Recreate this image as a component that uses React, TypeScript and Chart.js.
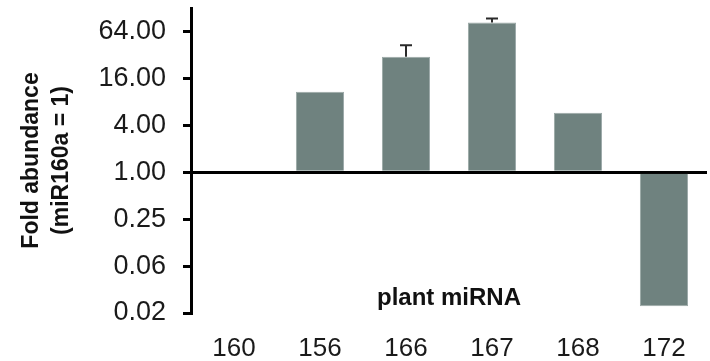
import React, { useEffect, useRef } from "react";
import { Chart, registerables } from "chart.js";

Chart.register(...registerables);

const categories = ["160", "156", "166", "167", "168", "172"];
const foldValues = [1, 10.8, 30.4, 83.6, 5.8, 0.0191];
const errorPlus = [0, 0, 12.2, 10.6, 0, 0];
const yTickValues = [1 / 64, 1 / 16, 1 / 4, 1, 4, 16, 64];
const yTitle = ["Fold abundance", "(miR160a = 1)"];
const innerLabel = "plant miRNA";

const FONT = "'Liberation Sans', Arial, Helvetica, sans-serif";

export default function App() {
  const ref = useRef<HTMLCanvasElement | null>(null);

  useEffect(() => {
    if (!ref.current) return;

    const extras = {
      id: "extras",
      afterDatasetsDraw(chart: any) {
        const { ctx, chartArea, scales } = chart;
        const y = scales.y;
        const meta = chart.getDatasetMeta(0);
        ctx.save();
        ctx.strokeStyle = "#2a2a2a";
        ctx.lineWidth = 2;
        meta.data.forEach((bar: any, i: number) => {
          const e = errorPlus[i];
          if (!e) return;
          const yTop = y.getPixelForValue(foldValues[i] + e);
          const yBar = y.getPixelForValue(foldValues[i]);
          ctx.beginPath();
          ctx.moveTo(bar.x, yBar);
          ctx.lineTo(bar.x, yTop);
          ctx.moveTo(bar.x - 6, yTop);
          ctx.lineTo(bar.x + 6, yTop);
          ctx.stroke();
        });
        ctx.fillStyle = "#111";
        ctx.font = `bold 24px ${FONT}`;
        ctx.textAlign = "center";
        ctx.textBaseline = "middle";
        ctx.fillText(innerLabel, (chartArea.left + chartArea.right) / 2, chartArea.bottom - 15);
        ctx.restore();
      },
    };

    const chart = new Chart(ref.current, {
      type: "bar",
      data: {
        labels: categories,
        datasets: [
          {
            data: foldValues,
            base: 1,
            backgroundColor: "#6f827f",
            borderColor: "#9aa8a6",
            borderWidth: 1,
            barPercentage: 0.56,
            categoryPercentage: 1,
          } as any,
        ],
      },
      options: {
        responsive: false,
        animation: false,
        layout: { padding: { left: 0, right: 3, top: 8, bottom: 0 } },
        plugins: {
          legend: { display: false },
          tooltip: { enabled: false },
        },
        scales: {
          x: {
            grid: { display: false, drawTicks: false },
            border: { display: false },
            ticks: {
              color: "#1a1a1a",
              font: { family: FONT, size: 26 },
              padding: 20,
              maxRotation: 0,
            },
            afterFit(scale: any) {
              scale.height = 48;
            },
          },
          y: {
            type: "logarithmic",
            min: 1 / 64,
            max: 128,
            afterBuildTicks(scale: any) {
              scale.ticks = yTickValues.map((v) => ({ value: v }));
            },
            afterFit(scale: any) {
              scale.width = 191;
              scale.paddingTop = 0;
              scale.paddingBottom = 0;
            },
            border: { display: true, color: "#000", width: 3 },
            grid: {
              color: (c: any) => (c.tick && Math.abs(c.tick.value - 1) < 1e-9 ? "#000" : "rgba(0,0,0,0)"),
              lineWidth: 3,
              tickColor: "#000",
              tickWidth: 3,
              tickLength: 8,
              drawOnChartArea: true,
            },
            ticks: {
              color: "#1a1a1a",
              font: { family: FONT, size: 27 },
              padding: 17,
              autoSkip: false,
              callback: (v: any) => Number(v).toFixed(2),
            },
            title: {
              display: true,
              text: yTitle,
              color: "#111",
              font: { family: FONT, size: 23, weight: "bold", lineHeight: 1.3 },
              padding: { top: 17, bottom: 0 },
            },
          },
        },
      },
      plugins: [extras],
    } as any);

    return () => chart.destroy();
  }, []);

  return (
    <div style={{ position: "absolute", left: 0, top: 0, width: 710, height: 361, background: "#fff" }}>
      <canvas ref={ref} width={710} height={361} style={{ display: "block" }} />
    </div>
  );
}
